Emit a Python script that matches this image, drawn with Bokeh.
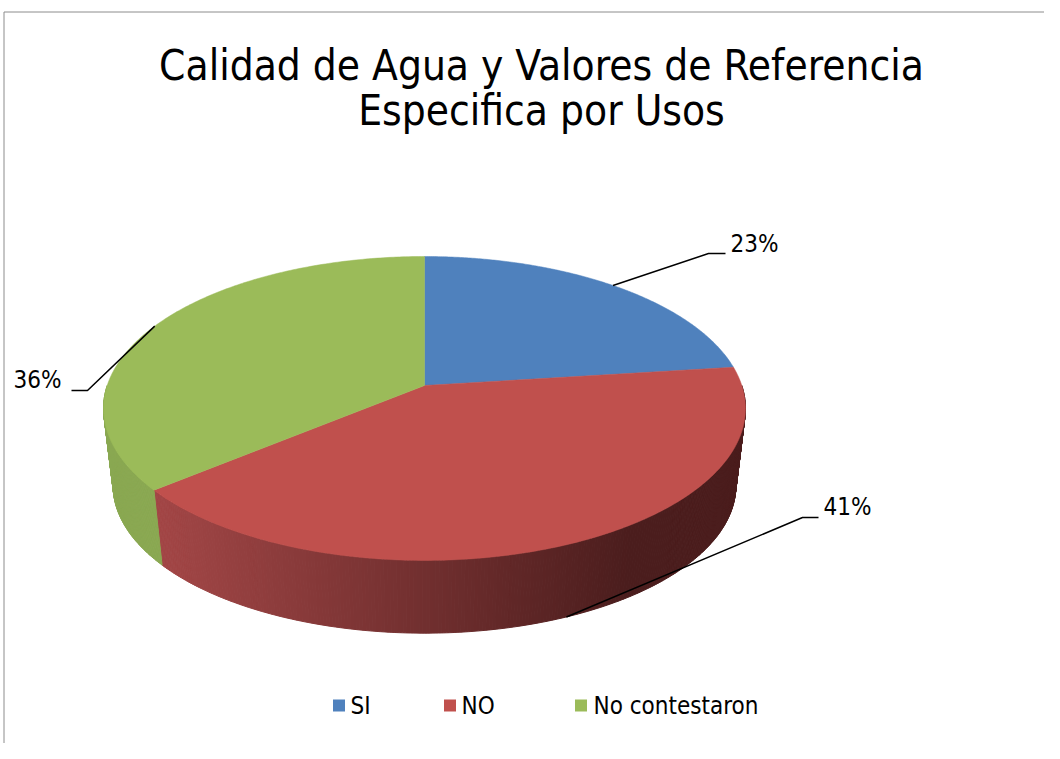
import numpy as np
from bokeh.plotting import figure
from bokeh.models import Range1d
from bokeh.core.properties import value
from bokeh.embed import file_html
from bokeh.resources import INLINE

# ---------------- data ----------------
categories = ["SI", "NO", "No contestaron"]
percentages = [23, 41, 36]
pct_labels = ["23%", "41%", "36%"]
title_lines = ["Calidad de Agua y Valores de Referencia", "Especifica por Usos"]

# ---------------- styles ----------------
top_colors = ["#4F81BD", "#C0504D", "#9BBB59"]
side_light = ["#5A7FB0", "#A24646", "#8AA852"]
side_dark = ["#3A5F8F", "#4B1D1D", "#7F9A48"]
FONT = "DejaVu Sans Condensed"

# ---------------- layout (reference pixel space) ----------------
W, H = 1044, 743
OX, OY = 0, 0
CX, CY = 424, 385          # projected pie centre
SX, SY = 317.3, 148.5      # projected radii
K = 0.151                  # perspective factor
DEPTH = 78                 # pie thickness
BSCALE = 0.97              # bottom face scale
GRAD_X0, GRAD_X1 = 160, 630

p = figure(width=W, height=H, output_backend="svg", toolbar_location=None,
           x_range=Range1d(OX, OX + W), y_range=Range1d(OY + H, OY),
           min_border=0)
p.axis.visible = False
p.grid.visible = False
p.outline_line_color = None
p.background_fill_color = "white"
p.border_fill_color = "white"


def proj(phi_deg, bottom=False):
    phi = np.radians(phi_deg)
    u, v = np.sin(phi), np.cos(phi)
    d = 1 + K * v
    X, Y = u / d, v / d
    s = BSCALE if bottom else 1.0
    return CX + s * SX * X, CY + (DEPTH if bottom else 0) - s * SY * Y


def hex2rgb(h):
    h = h.lstrip("#")
    return np.array([int(h[i:i + 2], 16) for i in (0, 2, 4)], dtype=float)


def mix(c1, c2, t):
    c = hex2rgb(c1) * (1 - t) + hex2rgb(c2) * t
    return "#%02x%02x%02x" % tuple(int(round(x)) for x in c)


total = float(sum(percentages))
fracs = [v / total for v in percentages]
bounds = np.concatenate([[0], np.cumsum(fracs) * 360.0])

# frame lines
p.line([3.5, 3.5], [11.5, OY + H], line_color="#8C8C8C", line_width=1)
p.line([3.5, OX + W], [11.5, 11.5], line_color="#8C8C8C", line_width=1)

# side walls (front half only)
sx, sy, sc = [], [], []
for i in range(len(percentages)):
    a, b = bounds[i], bounds[i + 1]
    lo, hi = max(a, 90.0), min(b, 270.0)
    if hi <= lo:
        continue
    n = max(2, int((hi - lo) / 0.5))
    phis = np.linspace(lo, hi, n + 1)
    for j in range(n):
        x0t, y0t = proj(phis[j])
        x1t, y1t = proj(phis[j + 1])
        x0b, y0b = proj(phis[j], True)
        x1b, y1b = proj(phis[j + 1], True)
        xm = (x0t + x1t) / 2
        t = float(np.clip((xm - GRAD_X0) / (GRAD_X1 - GRAD_X0), 0, 1))
        sx.append([x0t, x1t, x1b, x0b])
        sy.append([y0t, y1t, y1b, y0b])
        sc.append(mix(side_light[i], side_dark[i], t))
p.patches(sx, sy, fill_color=sc, line_color=sc, line_width=1)

# top face wedges
for i in range(len(percentages)):
    phis = np.linspace(bounds[i], bounds[i + 1], 200)
    xs, ys = proj(phis)
    p.patch(np.concatenate([[CX], xs]), np.concatenate([[CY], ys]),
            fill_color=top_colors[i], line_color=top_colors[i], line_width=0.5)

# data labels with leader lines
label_layout = [
    dict(elbow=(708, 253), end=(725, 253), text=(730, 243), align="left"),
    dict(elbow=(802, 517), end=(818, 517), text=(823, 506), align="left"),
    dict(elbow=(87, 390), end=(71, 390), text=(61, 379), align="right"),
]
for i, lab in enumerate(pct_labels):
    mid = (bounds[i] + bounds[i + 1]) / 2
    ax, ay = proj(mid, bottom=(90 < mid < 270))
    L = label_layout[i]
    p.line([ax, L["elbow"][0], L["end"][0]], [ay, L["elbow"][1], L["end"][1]],
           line_color="black", line_width=1.5)
    p.text(x=[L["text"][0]], y=[L["text"][1]], text=[lab],
           text_font=value(FONT), text_font_size="24px", text_color="black",
           text_align=L["align"], text_baseline="alphabetic")

# title
p.text(x=[541, 541], y=[65, 110], text=title_lines, text_font=value(FONT),
       text_font_size="42px", text_color="black", text_align="center",
       text_baseline="alphabetic")

# legend
leg_sq_x = [338.5, 449.5, 580.5]
leg_txt_x = [350, 461, 593]
p.rect(x=leg_sq_x, y=[705] * 3, width=12, height=12, fill_color=top_colors,
       line_color=None)
p.text(x=leg_txt_x, y=[705] * 3, text=categories, text_font=value(FONT),
       text_font_size="24px", text_color="black", text_align="left",
       text_baseline="alphabetic")

open("out.html", "w").write(file_html(p, INLINE))
